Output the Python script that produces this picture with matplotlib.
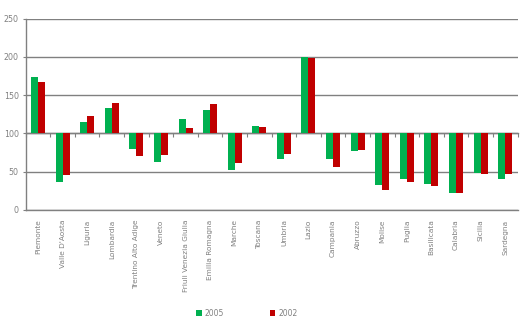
import numpy as np
import matplotlib.pyplot as plt

regions = ["Piemonte", "Valle D'Aosta", "Liguria", "Lombardia", "Trentino Alto Adige",
           "Veneto", "Friuli Venezia Giulia", "Emilia Romagna", "Marche", "Toscana",
           "Umbria", "Lazio", "Campania", "Abruzzo", "Molise", "Puglia", "Basilicata",
           "Calabria", "Sicilia", "Sardegna"]
v2005 = [173.5, 36.5, 114.5, 133, 80, 63, 118.5, 130.5, 52.5, 109.5,
         67, 200, 67, 77, 32.5, 40.5, 34, 22.5, 48.5, 40.5]
v2002 = [167, 46, 122.5, 139.5, 70.5, 72, 107, 138.5, 61.5, 108.5,
         73.5, 199, 56.5, 78.5, 26, 36.5, 31.5, 22.5, 47, 47]
base = 100

grey = "#808080"
green = "#00b050"
red = "#c00000"

fig = plt.figure(figsize=(5.28, 3.23), dpi=100)
ax = fig.add_axes([25.7 / 528, 1 - 209.7 / 323, (517.5 - 25.7) / 528, (209.7 - 18.7) / 323])

x = np.arange(len(regions))
w = 0.285
d2005 = np.array(v2005) - base
d2002 = np.array(v2002) - base
ax.bar(x - w / 2, d2005, w, bottom=base, color=green, label="2005", zorder=3)
ax.bar(x + w / 2, d2002, w, bottom=base, color=red, label="2002", zorder=3)

ax.set_xlim(-0.5, len(regions) - 0.5)
ax.set_ylim(0, 250)
ax.set_yticks(np.arange(0, 251, 50))
ax.yaxis.grid(True, color=grey, linewidth=1)
ax.set_axisbelow(True)

for s in ["top", "right"]:
    ax.spines[s].set_visible(False)
for s in ["left", "bottom"]:
    ax.spines[s].set_color(grey)
    ax.spines[s].set_linewidth(1)

ax.set_xticks(x)
ax.set_xticklabels(regions, rotation=90, ha="center", va="top")
ax.tick_params(axis="x", length=0, pad=7, labelsize=5.3, labelcolor=grey)
ax.tick_params(axis="y", length=2, color=grey, pad=3, labelsize=5.7, labelcolor=grey)

# category axis crossing at 100
sec = ax.secondary_xaxis(base / 250)
sec.set_xticks(np.arange(-0.5, len(regions), 1))
sec.tick_params(axis="x", direction="out", length=3, color=grey, labelbottom=False,
                labeltop=False, top=False, bottom=True)
sec.spines["bottom"].set_color(grey)
sec.spines["bottom"].set_linewidth(1)
sec.spines["top"].set_visible(False)

leg = fig.legend(loc="center", bbox_to_anchor=(0.468, 1 - 313 / 323), ncol=2, frameon=False,
                 fontsize=5.5, handlelength=0.7, handleheight=0.7, columnspacing=6,
                 handletextpad=0.4)
for t in leg.get_texts():
    t.set_color(grey)

fig.savefig("out.png", dpi=100)
